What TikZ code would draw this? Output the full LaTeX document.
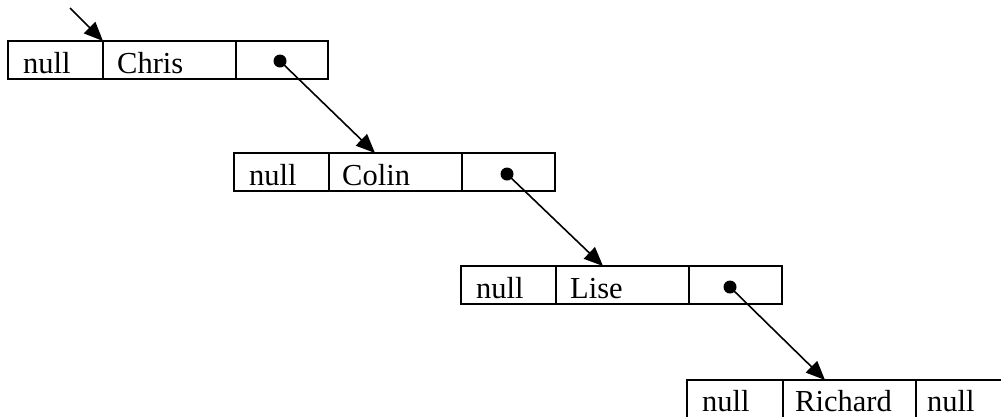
\documentclass[tikz,border=0pt]{standalone}
\usepackage{fontspec}
\setmainfont{Liberation Serif}
\usetikzlibrary{arrows.meta}
\begin{document}
\begin{tikzpicture}[x=1pt,y=-1pt,
  cell/.style={draw=black,line width=2pt,minimum height=38pt,inner sep=0pt,anchor=north west,outer sep=0pt},
  lbl/.style={anchor=base west,inner sep=0pt,font=\fontsize{30.5}{36}\selectfont},
  dot/.style={circle,fill=black,minimum size=13pt,inner sep=0pt},
  ptr/.style={line width=1.6pt,-{Triangle[length=19pt,width=16pt]}}]
\useasboundingbox (0,0) rectangle (1001,416);
\begin{scope}
\clip (0,0) rectangle (1001,416);
% node 1
\node[cell,minimum width=95pt] (a1) at (8,41) {};
\node[cell,minimum width=133pt] (a2) at (103,41) {};
\node[cell,minimum width=92pt] (a3) at (236,41) {};
\node[lbl] (ta1) at (23,73) {null};
\node[lbl] (ta2) at (117,73) {Chris};
\node[dot] (da) at (280,61) {};
% node 2
\node[cell,minimum width=95pt] (b1) at (234,153) {};
\node[cell,minimum width=133pt] (b2) at (329,153) {};
\node[cell,minimum width=93pt] (b3) at (462,153) {};
\node[lbl] (tb1) at (249,185) {null};
\node[lbl] (tb2) at (342,185) {Colin};
\node[dot] (db) at (507,174) {};
% node 3
\node[cell,minimum width=95pt] (c1) at (461,266) {};
\node[cell,minimum width=133pt] (c2) at (556,266) {};
\node[cell,minimum width=93pt] (c3) at (689,266) {};
\node[lbl] (tc1) at (476,298) {null};
\node[lbl] (tc2) at (570,298) {Lise};
\node[dot] (dc) at (730,287) {};
% node 4
\node[cell,minimum width=96pt] (e1) at (687,380) {};
\node[cell,minimum width=133pt] (e2) at (783,380) {};
\node[cell,minimum width=100pt] (e3) at (916,380) {};
\node[lbl] (te1) at (702,411) {null};
\node[lbl] (te2) at (795,411) {Richard};
\node[lbl] (te3) at (927,411) {null};
% pointers
\coordinate (head) at (70,8);
\draw[ptr] (head) -- (a2.north west);
\coordinate (tb) at (375,153);
\coordinate (tc) at (603,266);
\coordinate (te) at (825,380);
\draw[ptr] (da.center) -- (tb);
\draw[ptr] (db.center) -- (tc);
\draw[ptr] (dc.center) -- (te);
\end{scope}
\end{tikzpicture}
\end{document}
